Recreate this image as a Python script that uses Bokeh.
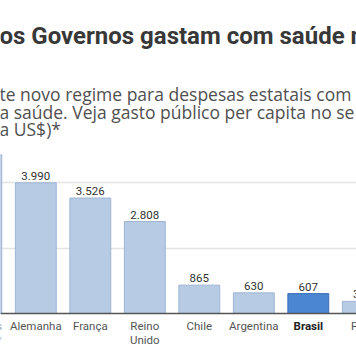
from bokeh.plotting import figure
from bokeh.models import Range1d, ColumnDataSource, Span, FixedTicker
from bokeh.core.properties import value
from bokeh.embed import file_html
from bokeh.resources import INLINE

# ---- data (US$ per capita, public health spending) ----
paises = ["Estados\nUnidos*", "Alemanha", "França", "Reino\nUnido", "Chile", "Argentina", "Brasil", "Peru"]
gasto = [4850, 3990, 3526, 2808, 865, 630, 607, 370]
destaque = ["Brasil"]
grid_ticks = [2000, 4000]

titulo = "os Governos gastam com saúde n"
subtitulo = ["te novo regime para despesas estatais com",
             "a saúde. Veja gasto público per capita no se",
             "a US$)*"]

# ---- layout helpers (pixel geometry of the cropped view) ----
W, H = 356, 364
BASE_PX = 313.0          # baseline pixel row
K = 65.5 / 2000.0        # px per unit
STEP = 54.5              # px per category
FIRST_PX = -19.2         # centre of first bar in px

y_top = BASE_PX / K
y_bot = -(H - BASE_PX) / K
x_start = -FIRST_PX / STEP
x_end = x_start + W / STEP


def yd(py):
    return (BASE_PX - py) / K


def xd(px):
    return x_start + px / STEP


def fmt(v):
    return f"{v:,}".replace(",", ".")


xs = list(range(len(paises)))
nomes = [p.replace("\n", " ").replace("*", "") for p in paises]
fill = ["#4a86d2" if n in destaque else "#b7cbe5" for n in nomes]
line = ["#3c70b8" if n in destaque else "#9db4d3" for n in nomes]
lab_col = ["#222222" if n in destaque else "#555555" for n in nomes]
lab_sty = ["bold" if n in destaque else "normal" for n in nomes]

src = ColumnDataSource(dict(x=xs, gasto=gasto, rot=[fmt(v) for v in gasto],
                            pais=paises, fill=fill, line=line,
                            lc=lab_col, ls=lab_sty))

p = figure(width=W, height=H, x_range=Range1d(x_start, x_end),
           y_range=Range1d(y_bot, y_top), output_backend="svg",
           toolbar_location=None, min_border=0)
p.axis.visible = False
p.xgrid.visible = False
p.ygrid.ticker = FixedTicker(ticks=grid_ticks)
p.ygrid.grid_line_color = "#e4e4e4"
p.ygrid.grid_line_width = 1.5
p.outline_line_color = None
p.background_fill_color = "white"
p.border_fill_color = "white"

p.vbar(x="x", top="gasto", bottom=0, width=0.75, source=src,
       fill_color="fill", line_color="line", line_width=1)

p.add_layout(Span(location=0, dimension="width", line_color="#555555",
                  line_width=1.5))

p.text(x="x", y="gasto", text="rot", source=src, text_align="center",
       text_baseline="bottom", y_offset=-3, text_font=value("Roboto"),
       text_font_size="11.5px", text_color="#333333")

p.text(x="x", y=yd(318), text="pais", source=src, text_align="center",
       text_baseline="top", text_font=value("Roboto"),
       text_font_size="11.5px", text_color="lc", text_font_style="ls",
       text_line_height=1.0)

# title & subtitle (cropped view)
p.text(x=[xd(-1)], y=[yd(35)], text=[titulo], text_baseline="alphabetic",
       text_font=value("Roboto"), text_font_style="bold",
       text_font_size="24px", text_color="#383838")
for s, py in zip(subtitulo, [93, 111, 128]):
    p.text(x=[xd(-1)], y=[yd(py)], text=[s],
           text_baseline="alphabetic", text_font=value("Open Sans"),
           text_font_size="17.5px", text_color="#505050")

open("out.html", "w").write(file_html(p, INLINE))
